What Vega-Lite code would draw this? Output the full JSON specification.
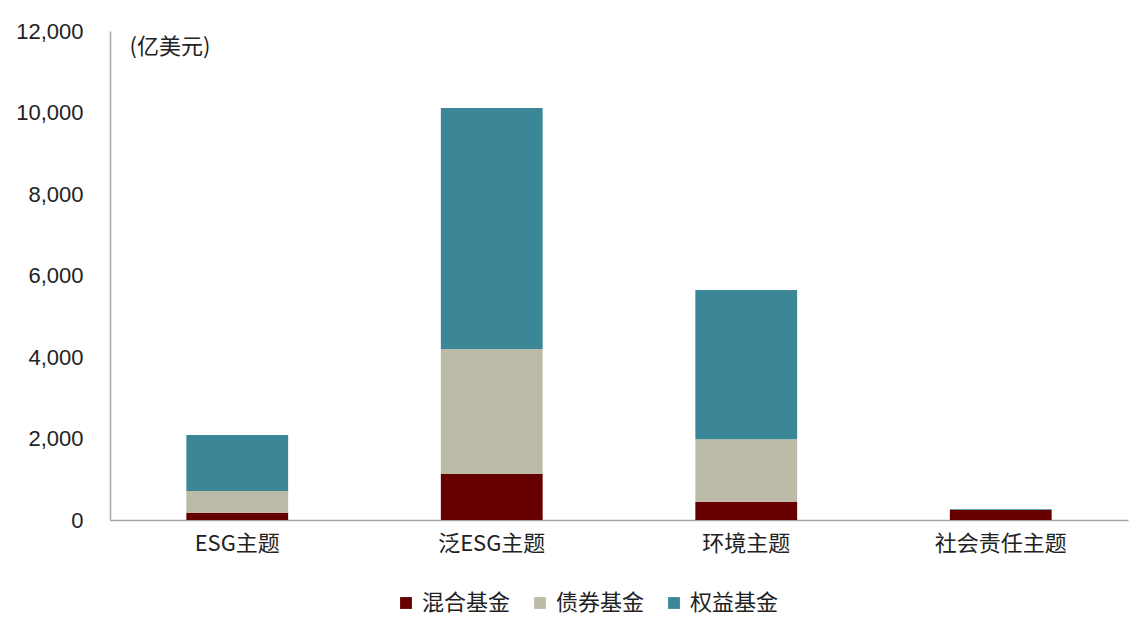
{
  "$schema": "https://vega.github.io/schema/vega-lite/v6.json",
  "width": 1018,
  "height": 489,
  "autosize": {"type": "none"},
  "padding": {"left": 110, "top": 31, "right": 9, "bottom": 107},
  "background": "white",
  "config": {
    "view": {"stroke": null},
    "font": "Liberation Sans",
    "axis": {"grid": false, "ticks": false, "domainColor": "#a6a6a6", "domainWidth": 1.5, "labelColor": "#222222", "labelFontSize": 22}
  },
  "datasets": {
    "series": [
      {"type": "混合基金", "rank": 1},
      {"type": "债券基金", "rank": 2},
      {"type": "权益基金", "rank": 3}
    ]
  },
  "data": {
    "values": [
      {"theme": "ESG主题", "type": "混合基金", "value": 180},
      {"theme": "ESG主题", "type": "债券基金", "value": 530},
      {"theme": "ESG主题", "type": "权益基金", "value": 1375},
      {"theme": "泛ESG主题", "type": "混合基金", "value": 1130},
      {"theme": "泛ESG主题", "type": "债券基金", "value": 3065},
      {"theme": "泛ESG主题", "type": "权益基金", "value": 5915},
      {"theme": "环境主题", "type": "混合基金", "value": 450},
      {"theme": "环境主题", "type": "债券基金", "value": 1530},
      {"theme": "环境主题", "type": "权益基金", "value": 3665},
      {"theme": "社会责任主题", "type": "混合基金", "value": 245},
      {"theme": "社会责任主题", "type": "债券基金", "value": 5},
      {"theme": "社会责任主题", "type": "权益基金", "value": 20}
    ]
  },
  "transform": [
    {"lookup": "type", "from": {"data": {"name": "series"}, "key": "type", "fields": ["rank"]}}
  ],
  "mark": {"type": "bar"},
  "encoding": {
    "x": {
      "field": "theme", "type": "nominal", "sort": null,
      "scale": {"paddingInner": 0.6, "paddingOuter": 0.3},
      "axis": {"title": null, "labelAngle": 0, "labelFont": "Noto Sans CJK SC", "labelPadding": 13, "labelFontSize": 22}
    },
    "y": {
      "field": "value", "type": "quantitative", "stack": "zero",
      "scale": {"domain": [0, 12000], "nice": false},
      "axis": {
        "values": [0, 2000, 4000, 6000, 8000, 10000, 12000],
        "format": ",d",
        "labelPadding": 27,
        "title": "(亿美元)",
        "titleAngle": 0,
        "titleAlign": "left",
        "titleBaseline": "middle",
        "titleX": 19,
        "titleY": 15,
        "titleFont": "Noto Sans CJK SC",
        "titleFontSize": 22,
        "titleFontWeight": "normal",
        "titleColor": "#222222"
      }
    },
    "order": {"field": "rank", "type": "quantitative", "sort": "ascending"},
    "color": {
      "field": "type", "type": "nominal",
      "scale": {"domain": ["混合基金", "债券基金", "权益基金"], "range": ["#660000", "#bcbba8", "#3b8798"]},
      "legend": {
        "title": null,
        "orient": "none",
        "direction": "horizontal",
        "legendX": 285,
        "legendY": 561,
        "symbolType": "square",
        "symbolSize": 140,
        "symbolStrokeWidth": 0,
        "labelFont": "Noto Sans CJK SC",
        "labelFontSize": 22,
        "labelColor": "#222222",
        "labelOffset": 5,
        "columnPadding": 18
      }
    }
  }
}
